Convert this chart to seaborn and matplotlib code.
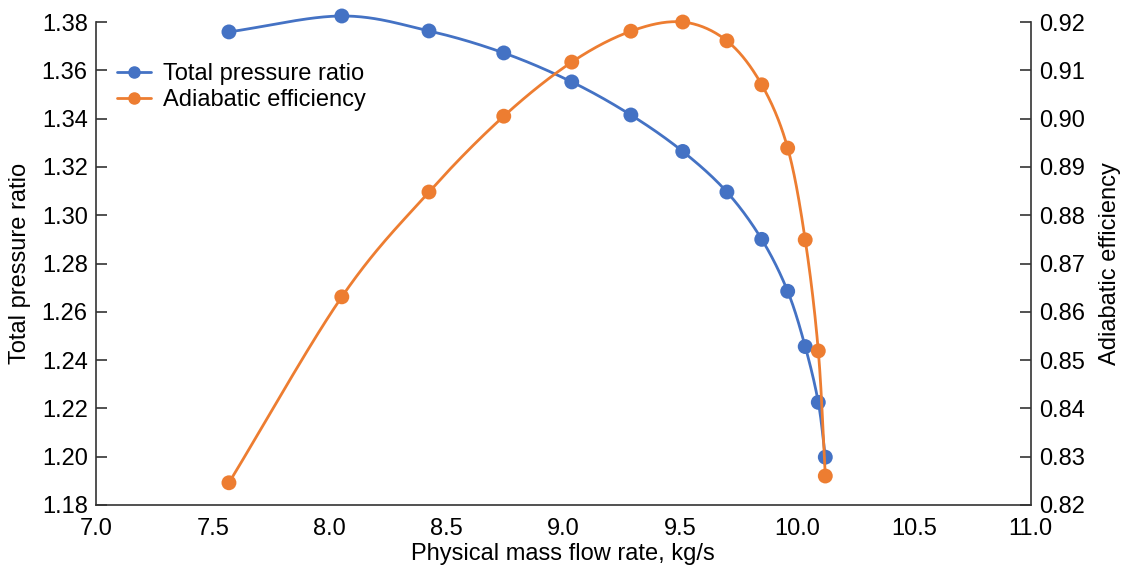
import numpy as np
import pandas as pd
import matplotlib
matplotlib.use("Agg")
import matplotlib.pyplot as plt
import seaborn as sns
from matplotlib.lines import Line2D

# ---- data ----
mass_flow = [7.569, 8.052, 8.425, 8.745, 9.036, 9.289, 9.511, 9.700, 9.849, 9.960, 10.035, 10.091, 10.121]
pressure_ratio = [1.3759, 1.3825, 1.3763, 1.3672, 1.3552, 1.3415, 1.3264, 1.3096, 1.2900, 1.2685, 1.2456, 1.2225, 1.1998]
efficiency = [0.8246, 0.8631, 0.8848, 0.9005, 0.9117, 0.9181, 0.9200, 0.9161, 0.9070, 0.8939, 0.8749, 0.8519, 0.8260]

x_ticks = [7.0, 7.5, 8.0, 8.5, 9.0, 9.5, 10.0, 10.5, 11.0]
left_ticks = [1.18, 1.20, 1.22, 1.24, 1.26, 1.28, 1.30, 1.32, 1.34, 1.36, 1.38]
right_ticks = [0.82, 0.83, 0.84, 0.85, 0.86, 0.87, 0.88, 0.89, 0.90, 0.91, 0.92]

BLUE = "#4472C4"
ORANGE = "#ED7D31"

sns.set_theme(style="white")
plt.rcParams["font.family"] = ["Liberation Sans", "DejaVu Sans"]


def smooth(xs, ys, xr, yr, n=40):
    """Parametric Catmull-Rom smoothing in normalized display space."""
    xs = np.asarray(xs, float); ys = np.asarray(ys, float)
    px = (xs - xr[0]) / (xr[1] - xr[0]) * 935.0
    py = (ys - yr[0]) / (yr[1] - yr[0]) * 483.0
    P = np.column_stack([px, py])
    P = np.vstack([2 * P[0] - P[1], P, 2 * P[-1] - P[-2]])
    out = []
    for i in range(1, len(P) - 2):
        p0, p1, p2, p3 = P[i - 1], P[i], P[i + 1], P[i + 2]
        t = np.linspace(0, 1, n, endpoint=(i == len(P) - 3))[:, None]
        seg = 0.5 * ((2 * p1) + (-p0 + p2) * t + (2 * p0 - 5 * p1 + 4 * p2 - p3) * t ** 2
                     + (-p0 + 3 * p1 - 3 * p2 + p3) * t ** 3)
        out.append(seg)
    S = np.vstack(out)
    sx = S[:, 0] / 935.0 * (xr[1] - xr[0]) + xr[0]
    sy = S[:, 1] / 483.0 * (yr[1] - yr[0]) + yr[0]
    return sx, sy


fig = plt.figure(figsize=(11.24, 5.69), dpi=100)
ax = fig.add_axes([0.0854, 0.1125, 0.8316, 0.8488])
ax2 = ax.twinx()

xr = (7.0, 11.0)
yl = (1.18, 1.38)
yr2 = (0.82, 0.92)

sx, sy = smooth(mass_flow, pressure_ratio, xr, yl)
sns.lineplot(x=sx, y=sy, ax=ax, color=BLUE, lw=2.0, sort=False, estimator=None, zorder=3, clip_on=False)
sns.scatterplot(x=mass_flow, y=pressure_ratio, ax=ax, color=BLUE, s=115, edgecolor="none", zorder=4, clip_on=False)

ex, ey = smooth(mass_flow, efficiency, xr, yr2)
sns.lineplot(x=ex, y=ey, ax=ax2, color=ORANGE, lw=2.0, sort=False, estimator=None, zorder=3, clip_on=False)
sns.scatterplot(x=mass_flow, y=efficiency, ax=ax2, color=ORANGE, s=115, edgecolor="none", zorder=4, clip_on=False)

ax.set_xlim(*xr)
ax.set_ylim(*yl)
ax2.set_ylim(*yr2)
ax.set_xticks(x_ticks)
ax.set_xticklabels([f"{v:.1f}" for v in x_ticks])
ax.set_yticks(left_ticks)
ax.set_yticklabels([f"{v:.2f}" for v in left_ticks])
ax2.set_yticks(right_ticks)
ax2.set_yticklabels([f"{v:.2f}" for v in right_ticks])

fs = 17
for a in (ax, ax2):
    a.tick_params(direction="in", length=8, width=1.2, color="#333333", labelsize=fs, pad=6,
                  labelcolor="black")
    for s in a.spines.values():
        s.set_color("#333333")
        s.set_linewidth(1.2)
    a.spines["top"].set_visible(False)
    a.grid(False)
ax.spines["right"].set_visible(False)
ax2.spines["left"].set_visible(False)
ax2.spines["bottom"].set_visible(False)
ax.tick_params(axis="x", pad=9.5)

ax.set_xlabel("Physical mass flow rate, kg/s", fontsize=fs, labelpad=2, color="black")
ax.set_ylabel("Total pressure ratio", fontsize=fs, labelpad=8, color="black")
ax2.set_ylabel("Adiabatic efficiency", fontsize=fs, labelpad=10, color="black")

handles = [Line2D([], [], color=BLUE, lw=2.0, marker="o", markersize=8),
           Line2D([], [], color=ORANGE, lw=2.0, marker="o", markersize=8)]
leg = ax.legend(handles, ["Total pressure ratio", "Adiabatic efficiency"], loc="upper left",
                bbox_to_anchor=(0.0225, 0.915), frameon=False, fontsize=fs, handlelength=1.45,
                handletextpad=0.5, labelspacing=0.18, borderaxespad=0, borderpad=0)
for t in leg.get_texts():
    t.set_color("black")

fig.savefig("out.png", dpi=100)
